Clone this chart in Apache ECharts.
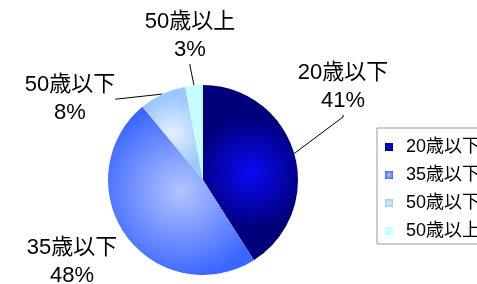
<!DOCTYPE html>
<html><head><meta charset="utf-8">
<script src="https://cdn.jsdelivr.net/npm/echarts@6/dist/echarts.min.js"></script>
<style>html,body{margin:0;padding:0;background:#fff}#c{width:477px;height:284px}</style>
</head><body><div id="c"></div>
<script>
const categories = ['20歳以下', '35歳以下', '50歳以下', '50歳以上'];
const values = [41, 48, 8, 3];

const FONT = '"Liberation Sans", "Noto Sans CJK JP", sans-serif';
const grads = [
  ['#0a0af5', '#00007a'],
  ['#b4c4ff', '#3a66ff'],
  ['#e4f0ff', '#9cc8ff'],
  ['#d4ffff', '#c4fcff']
];
const labelPos = [[343, 87], [72, 262], [70, 99], [190, 36]];

function grad(i) {
  return {type: 'radial', x: 0.5, y: 0.5, r: 0.6,
    colorStops: [{offset: 0, color: grads[i][0]}, {offset: 1, color: grads[i][1]}]};
}

const chart = echarts.init(document.getElementById('c'), null, {renderer: 'canvas'});
chart.setOption({
  animation: false,
  backgroundColor: '#fff',
  legend: {
    orient: 'vertical', left: 377, top: 128,
    padding: [9, 40, 3, 8], itemGap: 8,
    itemWidth: 8, itemHeight: 8, icon: 'rect',
    borderColor: '#999', borderWidth: 1,
    textStyle: {fontFamily: FONT, fontSize: 18, color: '#000', lineHeight: 20, padding: [0, 0, 0, 8]},
    data: categories.map((c, i) => ({name: c, itemStyle: {color: grad(i)}}))
  },
  series: [{
    type: 'pie',
    center: [203, 180], radius: 95,
    startAngle: 90, clockwise: true,
    label: {
      show: true, formatter: '{b}\n{d}%', fontFamily: FONT, fontSize: 22,
      color: '#000', lineHeight: 28, align: 'center', overflow: 'none'
    },
    labelLine: {show: true, length2: 2, minTurnAngle: 0, lineStyle: {color: '#000', width: 1}},
    labelLayout: function (p) {
      const pos = labelPos[p.dataIndex];
      return {x: pos[0], y: pos[1], align: 'center', verticalAlign: 'middle'};
    },
    data: categories.map((c, i) => ({
      name: c, value: values[i],
      itemStyle: {color: grad(i)},
      labelLine: {show: i !== 1}
    }))
  }]
});
</script></body></html>
